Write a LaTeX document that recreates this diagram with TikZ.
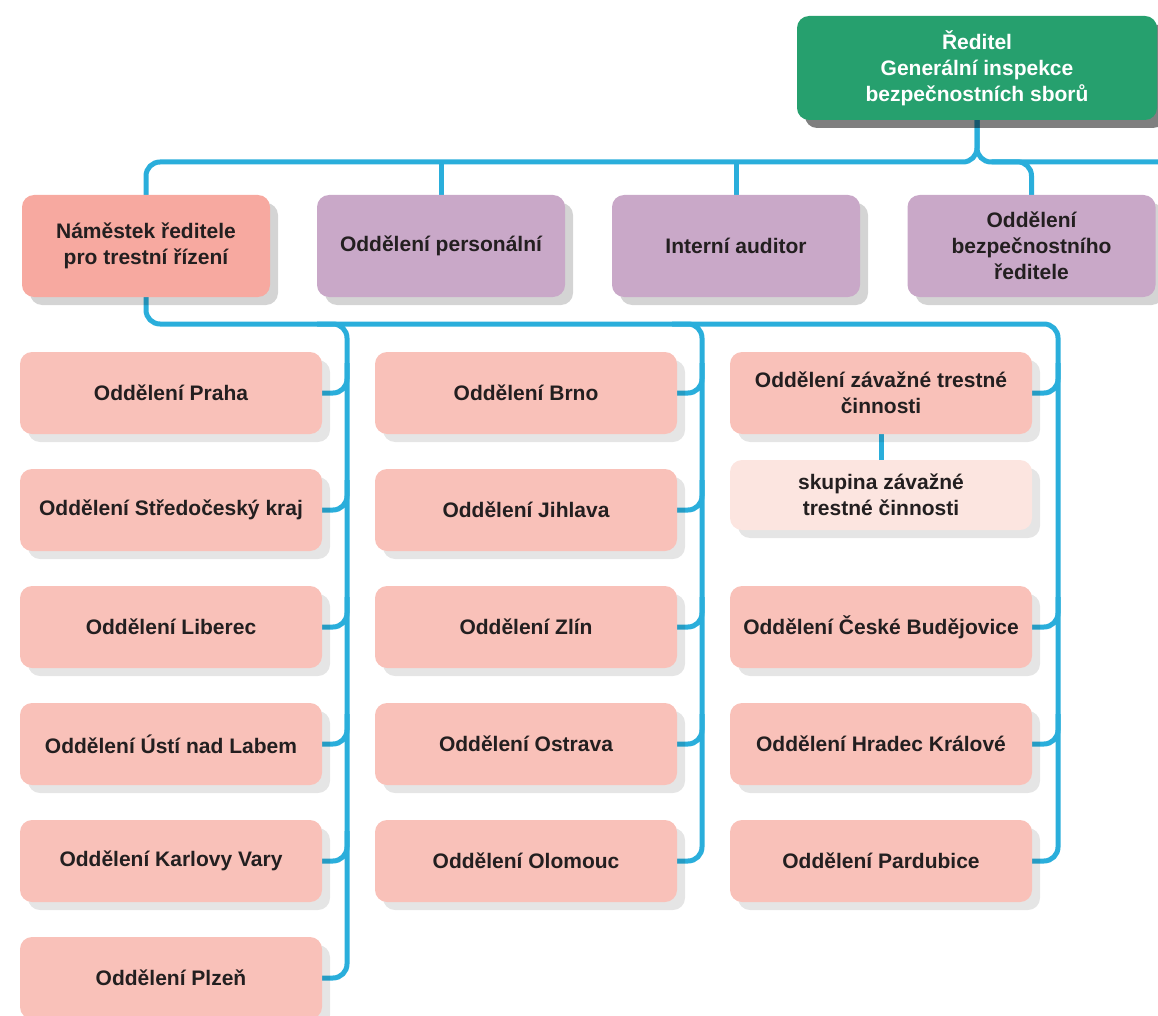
\documentclass[tikz,border=0pt]{standalone}
\usepackage{fontspec}
\setmainfont{Liberation Sans}
\usetikzlibrary{shadows,calc}
\definecolor{dirgreen}{HTML}{26A06E}
\definecolor{namcol}{HTML}{F7A9A0}
\definecolor{purp}{HTML}{C9A8C8}
\definecolor{odd}{HTML}{F9C1B9}
\definecolor{skup}{HTML}{FCE5E0}
\definecolor{txt}{HTML}{231F20}
\definecolor{linec}{HTML}{2AAEDB}
\pgfdeclarelayer{bg}
\pgfsetlayers{bg,main}
\begin{document}
\begin{tikzpicture}[x=1pt,y=-1pt,
  basebox/.style={rounded corners=12pt, inner sep=2pt, align=center,
    font=\fontsize{21}{26}\selectfont\bfseries, text=txt},
  dirbox/.style={basebox, fill=dirgreen, text=white, minimum width=360pt, minimum height=104pt,
    drop shadow={shadow xshift=8pt, shadow yshift=-8pt, fill=black, opacity=0.5}},
  rowbox/.style={basebox, minimum width=248pt, minimum height=102pt,
    drop shadow={shadow xshift=8pt, shadow yshift=-8pt, fill=black, opacity=0.17}},
  oddbox/.style={basebox, fill=odd, minimum width=302pt, minimum height=82pt,
    drop shadow={shadow xshift=8pt, shadow yshift=-8pt, fill=black, opacity=0.1}},
  conn/.style={draw=linec, line width=5pt, rounded corners=14pt}]
\useasboundingbox (0,0) rectangle (1158,1016);

% top
\node[dirbox] (dir) at (977,68) {Ředitel\\Generální inspekce\\bezpečnostních sborů};

% second row
\node[rowbox, fill=namcol] (nam) at (146,246) {Náměstek ředitele\\pro trestní řízení};
\node[rowbox, fill=purp] (per) at (441,246) {Oddělení personální};
\node[rowbox, fill=purp] (aud) at (736,246) {Interní auditor};
\node[rowbox, fill=purp] (bez) at (1031.5,246) {Oddělení\\bezpečnostního\\ředitele};

% column 1
\node[oddbox] (pra) at (171,393) {Oddělení Praha};
\node[oddbox] (str) at (171,510) {Oddělení Středočeský kraj};
\node[oddbox] (lib) at (171,627) {Oddělení Liberec};
\node[oddbox] (ust) at (171,744) {Oddělení Ústí nad Labem};
\node[oddbox] (kar) at (171,861) {Oddělení Karlovy Vary};
\node[oddbox] (plz) at (171,978) {Oddělení Plzeň};

% column 2
\node[oddbox] (brn) at (526,393) {Oddělení Brno};
\node[oddbox] (jih) at (526,510) {Oddělení Jihlava};
\node[oddbox] (zli) at (526,627) {Oddělení Zlín};
\node[oddbox] (ost) at (526,744) {Oddělení Ostrava};
\node[oddbox] (olo) at (526,861) {Oddělení Olomouc};

% column 3
\node[oddbox] (zav) at (881,393) {Oddělení závažné trestné\\činnosti};
\node[oddbox, fill=skup, minimum height=70pt] (sku) at (881,495) {skupina závažné\\trestné činnosti};
\node[oddbox] (ceb) at (881,627) {Oddělení České Budějovice};
\node[oddbox] (hra) at (881,744) {Oddělení Hradec Králové};
\node[oddbox] (par) at (881,861) {Oddělení Pardubice};

\begin{pgfonlayer}{bg}
  \coordinate (bus) at (977,162);
  \draw[conn] (dir.south) -- (bus) -| (nam.north);
  \draw[conn] (dir.south) -- (bus) -- (1175,162);
  \draw[conn] ($(bez.north)+(-40,-33)$) -| (bez.north);
  \draw[conn] (per.north) -- (per.north |- bus);
  \draw[conn] (aud.north) -- (aud.north |- bus);

  \coordinate (bb) at (1058,324);
  \coordinate (v1) at (347,324);
  \coordinate (v2) at (702,324);
  \draw[conn] (nam.south) |- (bb) |- (par.east);
  \draw[conn] ($(v1)+(-30,0)$) -| (v1 |- plz.east) -- (plz.east);
  \draw[conn] ($(v2)+(-30,0)$) -| (v2 |- olo.east) -- (olo.east);
  \foreach \n in {pra,str,lib,ust,kar}
    \draw[conn] ($(v1 |- \n.east)+(0,-30)$) |- (\n.east);
  \foreach \n in {brn,jih,zli,ost}
    \draw[conn] ($(v2 |- \n.east)+(0,-30)$) |- (\n.east);
  \foreach \n in {zav,ceb,hra}
    \draw[conn] ($(bb |- \n.east)+(0,-30)$) |- (\n.east);
  \draw[conn] (zav.south) -- (sku.north);
\end{pgfonlayer}
\end{tikzpicture}
\end{document}
